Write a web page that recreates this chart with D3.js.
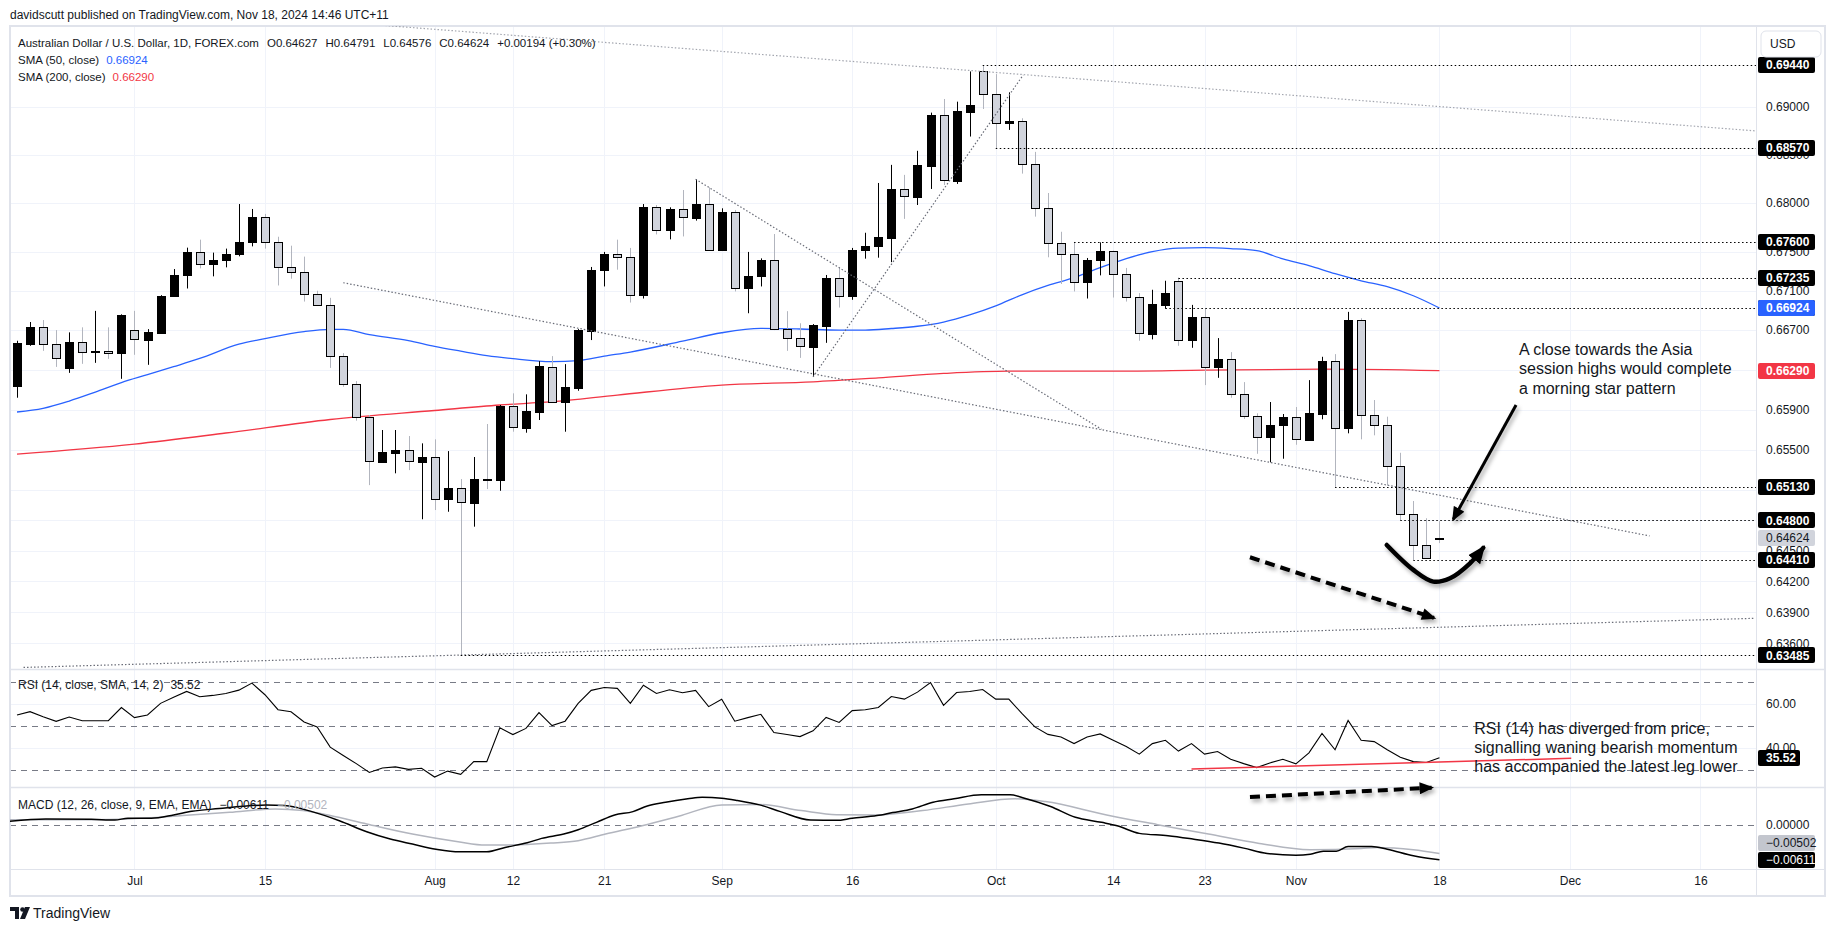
<!DOCTYPE html>
<html lang="en">
<head>
<meta charset="utf-8">
<title>AUD/USD 1D</title>
<script src="https://cdn.jsdelivr.net/npm/d3@7/dist/d3.min.js"></script>
<style>
  body { margin: 0; background: #fff; }
  text { font-family: "Liberation Sans", Arial, sans-serif; }
</style>
</head>
<body>
<script>

// -- Data -- //

// daily bars, 18 Jun 2024 .. 18 Nov 2024 (index 0 .. 109)
const opens = [.66138,.66561,.66728,.66555,.66318,.66575,.66477,.66487,.66470,.66697,
.66602,.66673,.67042,.67257,.67497,.67370,.67411,.67472,.67599,.67854,
.67599,.67343,.67292,.67066,.66953,.66434,.66152,.65822,.65376,.65468,
.65492,.65379,.65423,.65012,.65116,.64973,.65205,.65197,.65932,.65718,
.65878,.66332,.65978,.66115,.66693,.67308,.67476,.67446,.67052,.67956,
.67722,.67936,.67850,.67987,.67513,.67905,.67123,.67247,.67415,.66707,
.66616,.66531,.66744,.67230,.67042,.67513,.67554,.67643,.68146,.68066,
.68389,.68917,.68232,.68951,.69374,.69133,.68830,.68851,.68403,.67946,
.67589,.67476,.67185,.67411,.67507,.67271,.67035,.66665,.66959,.67199,
.66596,.66830,.66332,.66406,.66052,.65835,.65622,.65742,.65825,.65598,
.65858,.66383,.65712,.66799,.65842,.65745,.65333,.64859,.64554,.64627];
const highs = [.66592,.66782,.66802,.66700,.66677,.66728,.66895,.66728,.66860,.66895,
.66710,.67055,.67322,.67541,.67623,.67490,.67531,.67990,.67939,.67888,
.67653,.67561,.67449,.67100,.67028,.66467,.66185,.65845,.65695,.65695,
.65635,.65562,.65602,.65485,.65207,.65426,.65755,.65945,.66062,.66052,
.66386,.66437,.66356,.66710,.67343,.67497,.67623,.67538,.67990,.67980,
.67956,.68135,.68247,.68163,.67946,.67929,.67497,.67431,.67681,.66892,
.66769,.66761,.67261,.67333,.67538,.67694,.68208,.68396,.68292,.68542,
.68941,.69084,.69056,.69374,.69440,.69346,.69154,.68882,.68531,.68104,
.67704,.67600,.67435,.67595,.67510,.67333,.67076,.67110,.67202,.67235,
.66956,.66923,.66619,.66477,.66175,.65862,.65975,.65855,.65925,.66195,
.66430,.66457,.66885,.66820,.65995,.65828,.65468,.64990,.64820,.64791];
const lows = [.66018,.66541,.66490,.66328,.66268,.66359,.66369,.66409,.66208,.66450,
.66349,.66667,.67038,.67123,.67329,.67247,.67339,.67452,.67554,.67531,
.67154,.67223,.66990,.66950,.66318,.66128,.65788,.65147,.65369,.65264,
.65296,.64810,.64901,.64884,.63485,.64737,.65108,.65091,.65678,.65668,
.65795,.65972,.65678,.66088,.66599,.67144,.67315,.66980,.67021,.67677,
.67626,.67656,.67819,.67515,.67510,.67093,.66871,.67144,.66700,.66490,
.66419,.66228,.66571,.66929,.67008,.67428,.67438,.67392,.67837,.67980,
.68146,.68187,.68198,.68691,.68979,.68570,.68760,.68305,.67860,.67442,
.67169,.67093,.67021,.67257,.67031,.66990,.66592,.66606,.66918,.66541,
.66521,.66145,.66218,.66018,.65805,.65458,.65373,.65409,.65548,.65595,
.65802,.65130,.65662,.65602,.65642,.65144,.64800,.64410,.64425,.64576];
const closes = [.66565,.66728,.66555,.66413,.66575,.66474,.66487,.66472,.66854,.66606,
.66677,.67049,.67264,.67500,.67374,.67415,.67476,.67599,.67854,.67599,
.67343,.67292,.67066,.66953,.66434,.66152,.65822,.65383,.65472,.65492,
.65383,.65423,.65014,.65116,.64977,.65207,.65200,.65938,.65722,.65885,
.66335,.65978,.66122,.66700,.67315,.67476,.67446,.67056,.67956,.67722,
.67936,.67854,.67987,.67518,.67905,.67128,.67251,.67418,.66707,.66616,
.66535,.66751,.67230,.67046,.67521,.67558,.67650,.68146,.68070,.68396,
.68917,.68236,.68958,.69021,.69133,.68830,.68854,.68403,.67946,.67589,
.67476,.67189,.67415,.67507,.67271,.67035,.66667,.66964,.67076,.66597,
.66833,.66332,.66406,.66052,.65835,.65622,.65745,.65825,.65602,.65865,
.66386,.65712,.66802,.65845,.65745,.65333,.64859,.64554,.64430,.64624];

// moving averages, read at bar positions
const sma50Idx = [0,2,4,6,8,10,12,14,17,19,22,24,25,27,30,32,34,36,38,41,43,45,47,51,54,57,60,63,65,67,69,71,73,75,77,79,81,83,85,87,89,91,93,95,97,99,101,103,105,107,109];
const sma50Val = [.65875,.65912,.65985,.66075,.66170,.66250,.66330,.66413,.66558,.66614,.66685,.66707,.66707,.66654,.66594,.66535,.66487,.66442,.66411,.66381,.66391,.66436,.66478,.66588,.66673,.66717,.66711,.66700,.66700,.66716,.66739,.66782,.66854,.66946,.67059,.67154,.67233,.67336,.67428,.67500,.67536,.67541,.67531,.67510,.67425,.67356,.67274,.67202,.67141,.67049,.66924];
const sma200Idx = [0,9,16,24,32,37,41,46,54,61,66,71,76,84,91,100,109];
const sma200Val = [.65455,.65555,.65665,.65800,.65890,.65945,.65978,.66045,.66145,.66178,.66218,.66262,.66285,.66285,.66295,.66305,.66290];

// RSI (14), one value per bar
const rsi = [55.0,56.5,54.2,52.1,54.1,52.4,52.4,52.4,58.4,53.8,
55.0,60.3,63.1,65.7,63.3,63.9,64.8,66.3,69.5,64.2,
57.4,56.5,51.8,49.6,40.4,36.6,32.9,28.9,30.9,31.4,
30.3,30.8,26.8,29.5,28.0,33.8,33.8,49.2,46.1,48.9,
56.1,50.2,52.2,60.3,66.2,67.5,67.1,60.3,68.5,64.8,
66.5,65.1,66.2,58.8,62.2,52.2,53.8,55.3,47.0,46.1,
45.2,47.8,53.9,51.6,57.0,57.4,58.4,63.4,62.2,65.4,
69.8,59.4,65.2,65.7,66.6,62.2,62.2,55.7,49.6,46.2,
45.0,42.0,45.0,46.4,43.5,40.7,37.2,42.0,43.5,38.6,
42.0,37.2,38.4,34.9,32.9,31.1,33.2,34.9,32.8,37.8,
46.6,39.2,52.5,43.5,42.9,39.2,35.8,33.8,33.4,35.52];

// MACD (12, 26, 9) and signal, read at bar positions
const macdIdx = [-0.6,2.2,5.7,7.5,8.5,10.3,12,13.4,15.5,17.3,19.1,20.5,22.6,24.7,26.8,28.6,30.3,32.1,33.9,36,37.4,39.1,40.2,41.9,43,44.4,45.8,47.2,48.3,49.7,51.4,52.5,54,55.2,56.9,58.5,60.8,62.8,64,65.9,67.1,68.6,70.2,71.8,73.9,76.1,77.2,79.2,81.1,83.1,84.3,86,88.2,90.1,92.1,94,95.8,98,99.1,100.1,101.1,102,103.8,105,107,109];
const macdVal = [.00065,.00106,.00100,.00088,.00118,.00118,.00176,.00241,.00288,.00329,.00353,.00341,.00235,.00076,-.00118,-.00247,-.00335,-.00424,-.00471,-.00471,-.00394,-.00312,-.00235,-.00159,-.00082,.00047,.00176,.00235,.00335,.00400,.00459,.00488,.00471,.00430,.00353,.00235,.00088,.00082,.00118,.00165,.00218,.00282,.00400,.00459,.00529,.00529,.00471,.00324,.00135,.00047,-.00012,-.00147,-.00188,-.00247,-.00318,-.00406,-.00500,-.00529,-.00512,-.00459,-.00459,-.00376,-.00376,-.00424,-.00541,-.00611];
const sigIdx = [-0.6,5.7,8.5,12.7,16.3,19.8,21.9,24,26.8,30.3,33.8,35.9,37.4,40.9,43,45.1,47.9,50.7,54,56.9,60.1,62.8,65.9,69.4,72.9,76.5,78.8,83.5,87.4,91.3,95.2,99.1,103,104.2,107,109];
const sigVal = [.00094,.00094,.00106,.00165,.00224,.00282,.00253,.00165,.00018,-.00159,-.00294,-.00353,-.00353,-.00318,-.00276,-.00159,-.00012,.00153,.00353,.00359,.00253,.00182,.00176,.00253,.00370,.00459,.00412,.00176,.00006,-.00159,-.00324,-.00435,-.00412,-.00394,-.00435,-.00502];

// axes
const priceTicks = [0.690,0.685,0.680,0.675,0.671,0.667,0.663,0.659,0.655,0.651,0.648,0.645,0.642,0.639,0.636];
const timeLabels = ["Jul","15","Aug","12","21","Sep","16","Oct","14","23","Nov","18","Dec","16"];
const timeIdx = [9,19,32,38,45,54,64,75,84,91,98,109,119,129];

// drawings: [bar index, price]
const levelLines = [[74,.69440],[75,.68570],[81,.67600],[89,.67235],[88,.66924],[101,.65130],[106,.64800],[107,.64410],[34,.63485]];
const trendLines = [
  {p: [[25,.69894],[133.2,.68750]], c: "#a3a6af"},
  {p: [[25,.67182],[125.1,.64646]], c: "#6a6d78"},
  {p: [[52,.68247],[83.1,.65702]], c: "#6a6d78"},
  {p: [[61,.66228],[77.1,.69336]], c: "#6a6d78"},
  {p: [[0.5,.63367],[133.2,.63842]], c: "#6a6d78"}
];
const callArrow = [[114.87,.65945],[110.06,.64810]];
const smileArrow = [[104.96,.64557],[107.0,.64313],[108.53,.64199],[109.81,.64232],[111.34,.64378],[112.36,.64530]];
const priceDashArrow = [[94.48,.64437],[108.58,.63846]];
const macdDashArrow = [[94.48,.00491],[108.4,.00655]];
const rsiTrend = [[90,30.45],[119.1,35.3]];

// -- Setting -- //

const W = 1835, H = 931;
const paneL = 10, paneR = 1756, axisR = 1825;
const mainT = 26, mainB = 669, rsiB = 787, macdB = 869, frameB = 896;
const ink = "#131722";

const x = d3.scaleLinear().domain([0, 109]).range([17, 1439.45]);
const y = d3.scaleLog().domain([0.69, 0.63485]).range([107, 655.2]);
const yR = d3.scaleLinear().domain([30, 70]).range([770, 682]);
const yM = d3.scaleLinear().domain([0, -0.00611]).range([825, 859.8]);

const svg = d3.select("body").append("svg")
    .attr("width", W).attr("height", H);

svg.append("rect").attr("width", W).attr("height", H).attr("fill", "#fff");

const defs = svg.append("defs");
let addClip = function(id, y0, y1) {
    defs.append("clipPath").attr("id", id).append("rect")
        .attr("x", paneL).attr("y", y0).attr("width", paneR - paneL).attr("height", y1 - y0);
};
addClip("cMain", mainT, mainB);
addClip("cRsi", mainB, rsiB);
addClip("cMacd", rsiB, macdB);

const shadow = defs.append("filter").attr("id", "shadow")
    .attr("x", "-30%").attr("y", "-30%").attr("width", "160%").attr("height", "160%");
shadow.append("feDropShadow").attr("dx", 2).attr("dy", 3).attr("stdDeviation", 2)
    .attr("flood-color", "#000").attr("flood-opacity", 0.35);

let addHead = function(id, w, h) {
    defs.append("marker").attr("id", id)
        .attr("viewBox", "0 0 12 10").attr("refX", 10).attr("refY", 5)
        .attr("markerWidth", w).attr("markerHeight", h)
        .attr("markerUnits", "userSpaceOnUse").attr("orient", "auto")
        .append("path").attr("d", "M0,0 L12,5 L0,10 z").attr("fill", "#000");
};
addHead("head", 15, 12);
addHead("headBig", 18, 15);

// -- Grid and frame -- //

const grid = svg.append("g").attr("stroke", "#f0f3fa").attr("stroke-width", 1);
grid.selectAll("line.h").data(priceTicks).join("line")
    .attr("x1", paneL).attr("x2", paneR)
    .attr("y1", d => Math.round(y(d)) + 0.5).attr("y2", d => Math.round(y(d)) + 0.5);
grid.selectAll("line.r").data([60, 40]).join("line")
    .attr("x1", paneL).attr("x2", paneR)
    .attr("y1", d => Math.round(yR(d)) + 0.5).attr("y2", d => Math.round(yR(d)) + 0.5);
grid.selectAll("line.v").data(timeIdx).join("line")
    .attr("x1", d => Math.round(x(d)) + 0.5).attr("x2", d => Math.round(x(d)) + 0.5)
    .attr("y1", mainT).attr("y2", macdB);

const dashG = svg.append("g").attr("stroke", "#787b86").attr("stroke-width", 1).attr("stroke-dasharray", "6,5");
dashG.selectAll("line").data([70, 50, 30]).join("line")
    .attr("x1", paneL).attr("x2", paneR)
    .attr("y1", d => Math.round(yR(d)) + 0.5).attr("y2", d => Math.round(yR(d)) + 0.5);
dashG.append("line").attr("x1", paneL).attr("x2", paneR)
    .attr("y1", Math.round(yM(0)) + 0.5).attr("y2", Math.round(yM(0)) + 0.5);

const frame = svg.append("g").attr("stroke", "#e0e3eb").attr("fill", "none");
frame.append("rect").attr("x", paneL).attr("y", mainT).attr("width", axisR - paneL).attr("height", frameB - mainT).attr("stroke-width", 2);
[mainB, rsiB].forEach(v => frame.append("line").attr("x1", paneL).attr("x2", axisR).attr("y1", v + 0.5).attr("y2", v + 0.5).attr("stroke-width", 1.5));
frame.append("line").attr("x1", paneR + 0.5).attr("x2", paneR + 0.5).attr("y1", mainT).attr("y2", frameB);
frame.append("line").attr("x1", paneL).attr("x2", axisR).attr("y1", macdB + 0.5).attr("y2", macdB + 0.5);

// -- Main pane -- //

const main = svg.append("g").attr("clip-path", "url(#cMain)");

let smaLine = d3.line().x(d => x(d[0])).y(d => y(d[1])).curve(d3.curveMonotoneX);
main.append("path").datum(d3.zip(sma200Idx, sma200Val))
    .attr("d", smaLine).attr("fill", "none").attr("stroke", "#f23645").attr("stroke-width", 1.3);
main.append("path").datum(d3.zip(sma50Idx, sma50Val))
    .attr("d", smaLine).attr("fill", "none").attr("stroke", "#2962ff").attr("stroke-width", 1.3);

const bars = opens.map((o, i) => ({i: i, o: o, h: highs[i], l: lows[i], c: closes[i], up: closes[i] >= o}));

main.append("g").selectAll("line").data(bars).join("line")
    .attr("x1", d => Math.round(x(d.i)) + 0.5).attr("x2", d => Math.round(x(d.i)) + 0.5)
    .attr("y1", d => y(d.h)).attr("y2", d => y(d.l))
    .attr("stroke", d => d.up ? "#000" : "#b2b5be").attr("stroke-width", 1);

main.append("g").selectAll("rect").data(bars).join("rect")
    .attr("x", d => Math.round(x(d.i)) - 4 + 0.5)
    .attr("width", 8)
    .attr("y", d => Math.round(y(Math.max(d.o, d.c))) + 0.5)
    .attr("height", d => Math.max(Math.round(y(Math.min(d.o, d.c))) - Math.round(y(Math.max(d.o, d.c))), 1))
    .attr("fill", d => d.up ? "#000" : "#d1d4dc")
    .attr("stroke", "#000").attr("stroke-width", 1);

// drawings
let pLine = d3.line().x(d => x(d[0])).y(d => y(d[1]));
main.append("g").selectAll("path").data(trendLines).join("path")
    .attr("d", d => pLine(d.p)).attr("fill", "none")
    .attr("stroke", d => d.c).attr("stroke-width", 1.2).attr("stroke-dasharray", "1.5,2");

main.append("g").selectAll("line").data(levelLines).join("line")
    .attr("x1", d => x(d[0])).attr("x2", paneR)
    .attr("y1", d => Math.round(y(d[1])) + 0.5).attr("y2", d => Math.round(y(d[1])) + 0.5)
    .attr("stroke", "#000").attr("stroke-width", 1.2).attr("stroke-dasharray", "1.5,2.5");

const arrows = svg.append("g").attr("filter", "url(#shadow)").attr("fill", "none").attr("stroke", "#000");
arrows.append("path").attr("d", pLine(callArrow))
    .attr("stroke-width", 3).attr("marker-end", "url(#head)");
arrows.append("path").attr("d", pLine.curve(d3.curveCatmullRom)(smileArrow))
    .attr("stroke-width", 4.5).attr("stroke-linecap", "round").attr("marker-end", "url(#headBig)");
pLine.curve(d3.curveLinear);
arrows.append("path").attr("d", pLine(priceDashArrow))
    .attr("stroke-width", 4).attr("stroke-dasharray", "10,6").attr("marker-end", "url(#head)");
arrows.append("path")
    .attr("d", d3.line().x(d => x(d[0])).y(d => yM(d[1]))(macdDashArrow))
    .attr("stroke-width", 4).attr("stroke-dasharray", "10,6").attr("marker-end", "url(#head)");

// -- RSI pane -- //

const rsiG = svg.append("g").attr("clip-path", "url(#cRsi)");
rsiG.append("path").datum(rsi)
    .attr("d", d3.line().x((d, i) => x(i)).y(d => yR(d)))
    .attr("fill", "none").attr("stroke", "#000").attr("stroke-width", 1.1);
rsiG.append("path").datum(rsiTrend)
    .attr("d", d3.line().x(d => x(d[0])).y(d => yR(d[1])))
    .attr("fill", "none").attr("stroke", "#f23645").attr("stroke-width", 1.5);

// -- MACD pane -- //

const macdG = svg.append("g").attr("clip-path", "url(#cMacd)");
let mLine = d3.line().x(d => x(d[0])).y(d => yM(d[1])).curve(d3.curveMonotoneX);
macdG.append("path").datum(d3.zip(sigIdx, sigVal))
    .attr("d", mLine).attr("fill", "none").attr("stroke", "#b2b5be").attr("stroke-width", 1.5);
macdG.append("path").datum(d3.zip(macdIdx, macdVal))
    .attr("d", mLine).attr("fill", "none").attr("stroke", "#000").attr("stroke-width", 1.5);

// -- Axes -- //

let styleAxis = function(g) {
    g.select(".domain").remove();
    g.selectAll("text").attr("font-size", 12).attr("fill", ink)
        .style("font-family", "'Liberation Sans', Arial, sans-serif");
};
svg.append("g").attr("transform", `translate(${paneR},0)`)
    .call(d3.axisRight(y).tickValues(priceTicks).tickSize(0).tickPadding(10).tickFormat(d3.format(".5f")))
    .call(styleAxis);
svg.append("g").attr("transform", `translate(${paneR},0)`)
    .call(d3.axisRight(yR).tickValues([60, 40]).tickSize(0).tickPadding(10).tickFormat(d3.format(".2f")))
    .call(styleAxis);
svg.append("g").attr("transform", `translate(${paneR},0)`)
    .call(d3.axisRight(yM).tickValues([0]).tickSize(0).tickPadding(10).tickFormat(d3.format(".5f")))
    .call(styleAxis);
svg.append("g").attr("transform", `translate(0,${macdB})`)
    .call(d3.axisBottom(x).tickValues(timeIdx).tickSize(0).tickPadding(7).tickFormat((d, i) => timeLabels[i]))
    .call(styleAxis);

// price tags on the right scale
let tag = function(yv, txt, bg, fg, bold, w) {
    const g = svg.append("g");
    g.append("rect").attr("x", paneR + 2).attr("y", Math.round(yv) - 8)
        .attr("width", w || 57).attr("height", 16).attr("rx", 2).attr("fill", bg);
    g.append("text").attr("x", paneR + 10).attr("y", yv).attr("dy", "0.36em")
        .attr("font-size", 12).attr("font-weight", bold ? "bold" : "normal")
        .attr("fill", fg).text(txt);
};
const f5 = d3.format(".5f");
levelLines.forEach(d => tag(y(d[1]), f5(d[1]), "#000", "#fff", true));
tag(y(sma50Val[sma50Val.length - 1]), f5(sma50Val[sma50Val.length - 1]), "#2962ff", "#fff", true);
tag(y(sma200Val[sma200Val.length - 1]), f5(sma200Val[sma200Val.length - 1]), "#f23645", "#fff", true);
tag(y(closes[closes.length - 1]), f5(closes[closes.length - 1]), "#d1d4dc", ink, false);
tag(yR(rsi[rsi.length - 1]), d3.format(".2f")(rsi[rsi.length - 1]), "#000", "#fff", true, 42);
tag(yM(macdVal[macdVal.length - 1]) - 17, f5(sigVal[sigVal.length - 1]), "#c3c6ce", ink, false);
tag(yM(macdVal[macdVal.length - 1]), f5(macdVal[macdVal.length - 1]), "#000", "#fff", false);

// currency button
svg.append("rect").attr("x", 1761).attr("y", 31).attr("width", 60).attr("height", 26).attr("rx", 5)
    .attr("fill", "#fff").attr("stroke", "#e0e3eb");
svg.append("text").attr("x", 1770).attr("y", 44).attr("dy", "0.36em")
    .attr("font-size", 12).attr("fill", ink).text("USD");

// -- Legends and notes -- //

svg.append("text").attr("x", 10).attr("y", 15).attr("dy", "0.36em")
    .attr("font-size", 12).attr("fill", ink)
    .text("davidscutt published on TradingView.com, Nov 18, 2024 14:46 UTC+11");

const lg = svg.append("g").attr("font-size", 12).attr("fill", ink);
const l1 = lg.append("text").attr("x", 18).attr("y", 43).attr("dy", "0.36em").attr("font-size", 11.5);
l1.append("tspan").text("Australian Dollar / U.S. Dollar, 1D, FOREX.com");
["O0.64627", "H0.64791", "L0.64576", "C0.64624", "+0.00194 (+0.30%)"].forEach(s =>
    l1.append("tspan").attr("dx", 8).text(s));
const l2 = lg.append("text").attr("x", 18).attr("y", 60).attr("dy", "0.36em").attr("font-size", 11.5);
l2.append("tspan").text("SMA (50, close)");
l2.append("tspan").attr("dx", 7).attr("fill", "#2962ff").text(f5(sma50Val[sma50Val.length - 1]));
const l3 = lg.append("text").attr("x", 18).attr("y", 77).attr("dy", "0.36em").attr("font-size", 11.5);
l3.append("tspan").text("SMA (200, close)");
l3.append("tspan").attr("dx", 7).attr("fill", "#f23645").text(f5(sma200Val[sma200Val.length - 1]));

const l4 = lg.append("text").attr("x", 18).attr("y", 685).attr("dy", "0.36em");
l4.append("tspan").text("RSI (14, close, SMA, 14, 2)");
l4.append("tspan").attr("dx", 7).text(d3.format(".2f")(rsi[rsi.length - 1]));
const l5 = lg.append("text").attr("x", 18).attr("y", 805).attr("dy", "0.36em");
l5.append("tspan").text("MACD (12, 26, close, 9, EMA, EMA)");
l5.append("tspan").attr("dx", 8).text(f5(macdVal[macdVal.length - 1]));
l5.append("tspan").attr("dx", 8).attr("fill", "#b2b5be").text(f5(sigVal[sigVal.length - 1]));

const note1 = ["A close towards the Asia", "session highs would complete", "a morning star pattern"];
const note2 = ["RSI (14) has diverged from price,", "signalling waning bearish momentum", "has accompanied the latest leg lower"];
svg.append("g").selectAll("text").data(note1).join("text")
    .attr("x", x(115.1)).attr("y", (d, i) => y(0.66504) + i * 19.2).attr("dy", "0.36em")
    .attr("font-size", 16).attr("fill", ink).text(d => d);
svg.append("g").selectAll("text").data(note2).join("text")
    .attr("x", x(111.67)).attr("y", (d, i) => yR(48.95) + i * 19.2).attr("dy", "0.36em")
    .attr("font-size", 16).attr("fill", ink).text(d => d);

// TradingView mark
const logo = svg.append("g").attr("fill", ink);
logo.append("path").attr("d", "M10,907 h9 v12 h-4 v-8 h-5 z");
logo.append("circle").attr("cx", 22.5).attr("cy", 909.5).attr("r", 2.3);
logo.append("path").attr("d", "M25,907 h5 l-5,12 h-5 z");
svg.append("text").attr("x", 33).attr("y", 913).attr("dy", "0.36em")
    .attr("font-size", 14).attr("fill", ink).text("TradingView");

</script>
</body>
</html>
